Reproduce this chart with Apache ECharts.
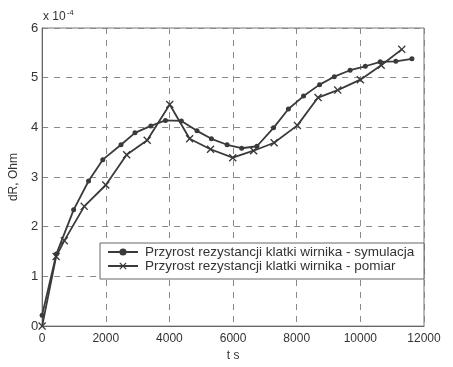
<!DOCTYPE html>
<html><head><meta charset="utf-8">
<script src="https://cdn.jsdelivr.net/npm/echarts@6/dist/echarts.min.js"></script>
<style>html,body{margin:0;padding:0;background:#fff;}#c{width:453px;height:367px;}</style>
</head><body><div id="c"></div>
<script>
// time in seconds, values in units of 1e-4 Ohm
const simT = [0, 447, 990, 1459, 1906, 2479, 2917, 3417, 3875, 4375, 4866, 5320, 5812, 6271, 6750, 7271, 7740, 8215, 8719, 9180, 9677, 10156, 10625, 11115, 11620];
const simV = [0.22, 1.45, 2.34, 2.92, 3.35, 3.65, 3.89, 4.03, 4.14, 4.13, 3.93, 3.77, 3.65, 3.58, 3.62, 3.99, 4.37, 4.63, 4.86, 5.02, 5.15, 5.23, 5.32, 5.33, 5.38];
const pomT = [0, 440, 697, 1323, 2000, 2656, 3302, 4010, 4635, 5292, 5990, 6646, 7290, 8021, 8670, 9290, 10000, 10656, 11302];
const pomV = [0, 1.40, 1.72, 2.41, 2.84, 3.45, 3.74, 4.46, 3.77, 3.56, 3.39, 3.53, 3.69, 4.04, 4.60, 4.75, 4.96, 5.25, 5.57];
const xTicks = [0, 2000, 4000, 6000, 8000, 10000, 12000];
const yTicks = [0, 1, 2, 3, 4, 5, 6];
const names = ['Przyrost rezystancji klatki wirnika - symulacja', 'Przyrost rezystancji klatki wirnika - pomiar'];

const simData = simT.map((t, i) => [t, simV[i]]);
const pomData = pomT.map((t, i) => [t, pomV[i]]);
const xPath = 'path://M0,1.2L1.2,0L5,3.8L8.8,0L10,1.2L6.2,5L10,8.8L8.8,10L5,6.2L1.2,10L0,8.8L3.8,5Z';
const font = 'Liberation Sans';
const chart = echarts.init(document.getElementById('c'), null, {renderer: 'canvas'});
chart.setOption({
  animation: false,
  backgroundColor: '#fff',
  textStyle: {fontFamily: font},
  grid: {left: 40, right: 29, top: 28, bottom: 36, show: true, borderColor: '#777', borderWidth: 1},
  xAxis: {
    type: 'value', min: xTicks[0], max: xTicks[xTicks.length - 1], interval: 2000,
    name: 't s', nameLocation: 'middle', nameGap: 19,
    nameTextStyle: {color: '#333', fontSize: 12, fontFamily: font},
    axisLine: {show: true, lineStyle: {color: '#666', width: 1}},
    axisTick: {show: false},
    axisLabel: {color: '#333', fontSize: 12, margin: 7, fontFamily: font, formatter: v => String(v)},
    splitLine: {show: true, lineStyle: {color: '#888', type: [6, 6], width: 1}}
  },
  yAxis: {
    type: 'value', min: yTicks[0], max: yTicks[yTicks.length - 1], interval: 1,
    name: 'dR, Ohm', nameLocation: 'middle', nameGap: 22, nameRotate: 90,
    nameTextStyle: {color: '#333', fontSize: 12, fontFamily: font},
    axisLine: {show: true, lineStyle: {color: '#666', width: 1}},
    axisTick: {show: false},
    axisLabel: {color: '#333', fontSize: 13, margin: 4, fontFamily: font},
    splitLine: {show: true, lineStyle: {color: '#888', type: [6, 6], width: 1}}
  },
  legend: {
    orient: 'vertical', left: 107, top: 245, padding: 0, itemGap: 0,
    itemWidth: 30, itemHeight: 9, z: 10,
    textStyle: {color: '#333', fontSize: 13.5, lineHeight: 13, fontFamily: font, padding: [0, 0, 0, 2]},
    data: [names[0], names[1]]
  },
  graphic: [
    {type: 'rect', z: 8, shape: {x: 100, y: 243, width: 324, height: 36},
     style: {fill: '#fff', stroke: '#666', lineWidth: 1}},
    {type: 'text', z: 8, left: 43, top: 9,
     style: {text: '{a|x 10}{b|-4}', rich: {
       a: {fontSize: 12, fill: '#333', fontFamily: font, verticalAlign: 'bottom'},
       b: {fontSize: 8, fill: '#333', fontFamily: font, verticalAlign: 'top', padding: [0, 0, 6, 1]}
     }}}
  ],
  series: [
    {name: names[0], type: 'line', data: simData, symbol: 'circle', symbolSize: 5,
     lineStyle: {color: '#3a3a3a', width: 1.8}, itemStyle: {color: '#3a3a3a'}},
    {name: names[1], type: 'line', data: pomData, symbol: xPath, symbolSize: 8,
     lineStyle: {color: '#3a3a3a', width: 1.8}, itemStyle: {color: '#3a3a3a'}}
  ]
});
</script></body></html>
